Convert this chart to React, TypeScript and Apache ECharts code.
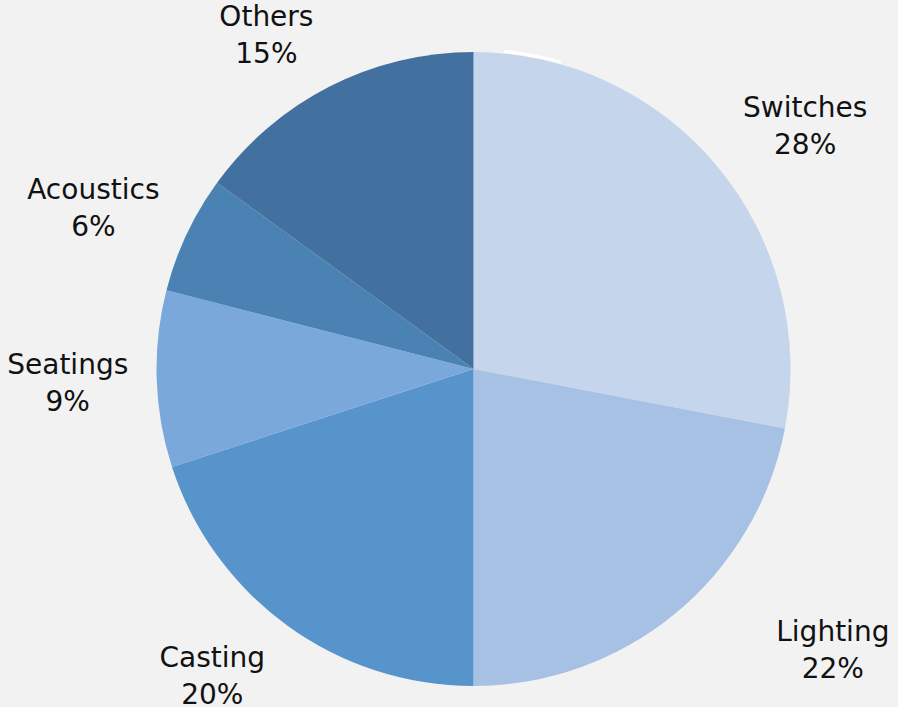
import React, { useEffect, useRef } from "react";
import * as echarts from "echarts";

const categories = ["Switches", "Lighting", "Casting", "Seatings", "Acoustics", "Others"];
const shares = [28, 22, 20, 9, 6, 15];
const colors = ["#c5d5eb", "#a6c1e4", "#5794cb", "#7aa8da", "#4b82b4", "#43719f"];
// label placement style: radial distance (px) and angular nudge (deg) from slice mid-angle
const labelRadius = [411, 456, 403, 406, 413, 393];
const labelAngleNudge = [3.4, -12.4, 4.4, -0.2, -2.2, -4.8];

const CX = 473.5;
const CY = 369;
const R = 317;

export default function App() {
  const ref = useRef<HTMLDivElement>(null);
  useEffect(() => {
    if (!ref.current) return;
    const chart = echarts.init(ref.current, undefined, { renderer: "svg" });
    const total = shares.reduce((a, b) => a + b, 0);
    const mids: number[] = [];
    let cum = 0;
    shares.forEach((v) => {
      mids.push(((cum + v / 2) / total) * 360);
      cum += v;
    });
    chart.setOption({
      animation: false,
      backgroundColor: "#f2f2f2",
      graphic: [
        {
          type: "arc",
          z: 0,
          silent: true,
          shape: {
            cx: CX,
            cy: CY - 2,
            r: R,
            startAngle: (-84.5 * Math.PI) / 180,
            endAngle: (-74 * Math.PI) / 180,
          },
          style: { stroke: "#ffffff", lineWidth: 3, fill: "none" },
        },
      ],
      series: [
        {
          type: "pie",
          z: 2,
          center: [CX, CY],
          radius: R,
          startAngle: 90,
          clockwise: true,
          avoidLabelOverlap: false,
          data: categories.map((name, i) => ({
            name,
            value: shares[i],
            itemStyle: { color: colors[i] },
          })),
          itemStyle: { borderWidth: 0 },
          emphasis: { disabled: true },
          label: {
            show: true,
            position: "outside",
            formatter: (p: any) => `${p.name}\n${p.value}%`,
            fontFamily: "DejaVu Sans",
            fontSize: 28,
            lineHeight: 37,
            color: "#111111",
            align: "center",
          },
          labelLine: { show: false },
          labelLayout: (params: any) => {
            const i = params.dataIndex;
            const a = ((mids[i] + labelAngleNudge[i]) * Math.PI) / 180;
            return {
              x: CX + labelRadius[i] * Math.sin(a),
              y: CY - labelRadius[i] * Math.cos(a),
              align: "center",
              verticalAlign: "middle",
            };
          },
        },
      ],
    });
    return () => chart.dispose();
  }, []);
  return (
    <div
      ref={ref}
      style={{ position: "absolute", left: 0, top: 0, width: 898, height: 707 }}
    />
  );
}
